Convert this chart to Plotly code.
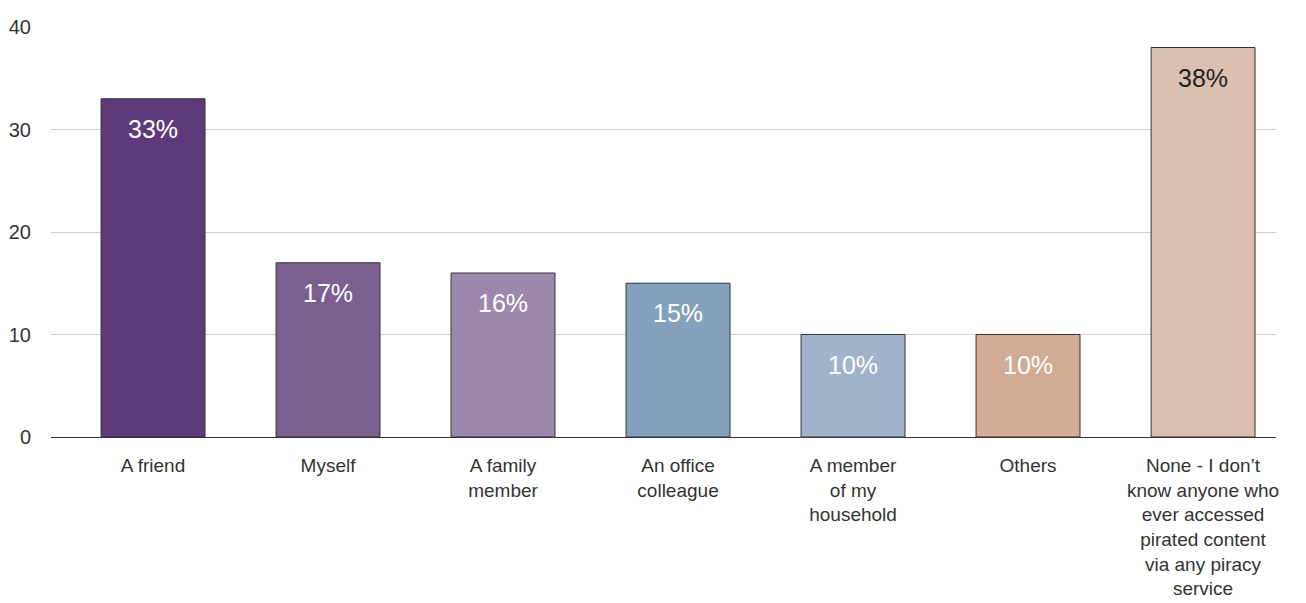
import plotly.graph_objects as go

# Survey responses: who accessed pirated content
categories = [
    "A friend",
    "Myself",
    "A family<br>member",
    "An office<br>colleague",
    "A member<br>of my<br>household",
    "Others",
    "None - I don\u2019t<br>know anyone who<br>ever accessed<br>pirated content<br>via any piracy<br>service",
]
values = [33, 17, 16, 15, 10, 10, 38]
value_labels = ["33%", "17%", "16%", "15%", "10%", "10%", "38%"]
bar_colors = ["#5E3A7B", "#7A5F90", "#9C88AD", "#83A0BD", "#A1B3CA", "#D2AB94", "#DBBFAF"]
label_colors = ["#FFFFFF", "#FFFFFF", "#FFFFFF", "#FFFFFF", "#FFFFFF", "#FFFFFF", "#222222"]
y_ticks = [0, 10, 20, 30, 40]

FONT = "Liberation Sans, Arial, Helvetica, sans-serif"

fig = go.Figure(
    go.Bar(
        x=list(range(len(categories))),
        y=values,
        marker=dict(color=bar_colors, line=dict(color="#333333", width=1)),
        hoverinfo="skip",
    )
)

# Percentage labels placed inside each bar, a little below its top
for i, (val, lab, col) in enumerate(zip(values, value_labels, label_colors)):
    fig.add_annotation(
        x=i, y=val, text=lab, showarrow=False,
        xanchor="center", yanchor="middle", yshift=-30,
        font=dict(family=FONT, size=25, color=col),
    )

fig.update_layout(
    width=1306, height=603,
    margin=dict(l=51, r=30, t=27, b=166),
    paper_bgcolor="white", plot_bgcolor="white",
    bargap=0.406,
    showlegend=False,
    font=dict(family=FONT, color="#333333"),
)
fig.update_xaxes(
    range=[-0.583, 6.417], automargin=False,
    tickmode="array", tickvals=list(range(len(categories))), ticktext=categories,
    showline=True, linecolor="#333333", linewidth=1.2,
    showgrid=False, zeroline=False, ticks="",
    tickfont=dict(size=19, color="#333333"),
    ticklabelstandoff=11, tickangle=0,
)
fig.update_yaxes(
    range=[0, 40], tickvals=y_ticks, automargin=False,
    showgrid=True, gridcolor="#D0D0D0",
    gridwidth=1, zeroline=False, showline=False, ticks="",
    tickfont=dict(size=20, color="#333333"), ticklabelstandoff=19,
)

fig.write_html("out.html")
